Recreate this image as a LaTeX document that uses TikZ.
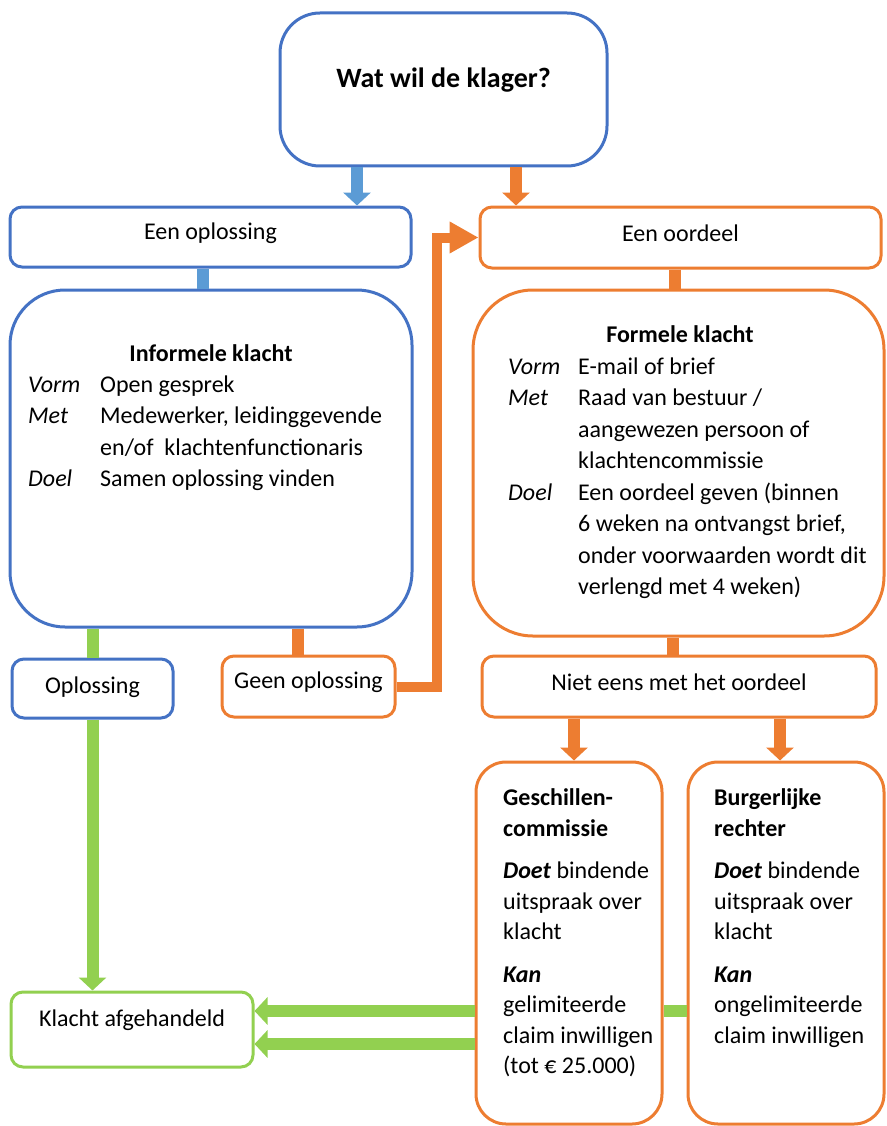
\documentclass[tikz,border=0pt]{standalone}
\usepackage{fontspec}
\setmainfont{Carlito}
\usetikzlibrary{arrows.meta}
\definecolor{kblue}{HTML}{4472C4}
\definecolor{karrow}{HTML}{5B9BD5}
\definecolor{korange}{HTML}{ED7D31}
\definecolor{kgreen}{HTML}{92D050}
\newcommand{\lift}[2]{\raisebox{#1}[\height][\depth]{#2}}

\begin{document}
\begin{tikzpicture} [x=1pt, y=-1pt,
    font=\fontsize{24}{31.5}\selectfont,
    box/.style = {draw, line width=3pt, rounded corners=12pt, fill=white, inner sep=0pt},
    bluebox/.style = {box, draw=kblue},
    orangebox/.style = {box, draw=korange},
    greenbox/.style = {box, draw=kgreen},
    link/.style = {line width=12pt},
    tip/.style = {-{Triangle[width=27pt, length=13pt]}},
    listing/.style = {inner sep=0pt, anchor=north west},
    verdict/.style = {listing, font=\fontsize{24}{30.5}\selectfont}]
    \clip (0,0) rectangle (886,1126);
    % \draw [help lines, step=100] (0,0) grid (886,1126);

    \node (wat) [bluebox, rounded corners=40pt,
        minimum width=327pt, minimum height=153pt] at (443.5,89.5)
        {\lift{9pt}{\fontsize{28}{34}\selectfont\bfseries Wat wil de klager?}};

    \node (oplos) [bluebox, minimum width=401pt, minimum height=60pt]
        at (210.5,237) {\lift{4pt}{Een oplossing}};
    \node (oordeel) [orangebox, minimum width=401pt, minimum height=61pt]
        at (680.5,237.5) {\lift{4pt}{Een oordeel}};

    \node (infbox) [bluebox, rounded corners=55pt,
        minimum width=402pt, minimum height=337pt] at (211,458.5) {};
    \node (inftitle) at (211,353) {\bfseries Informele klacht};
    \node (inflist) [listing] at (28,370) {%
        \begin{tabular}{@{}p{72pt}@{}l@{}}
        \textit{Vorm} & Open gesprek\\
        \textit{Met}  & Medewerker, leidinggevende\\
                      & en/of\ \ klachtenfunctionaris\\
        \textit{Doel} & Samen oplossing vinden
        \end{tabular}};

    \node (forbox) [orangebox, rounded corners=60pt,
        minimum width=411pt, minimum height=346pt] at (678.5,463) {};
    \node (fortitle) at (680,334) {\bfseries Formele klacht};
    \node (forlist) [listing] at (508,352) {%
        \begin{tabular}{@{}p{70pt}@{}l@{}}
        \textit{Vorm} & E-mail of brief\\
        \textit{Met}  & Raad van bestuur /\\
                      & aangewezen persoon of\\
                      & klachtencommissie\\
        \textit{Doel} & Een oordeel geven (binnen\\
                      & 6 weken na ontvangst brief,\\
                      & onder voorwaarden wordt dit\\
                      & verlengd met 4 weken)
        \end{tabular}};

    \node (oplossing) [bluebox, minimum width=161pt, minimum height=59pt]
        at (92.5,688.5) {\lift{1pt}{Oplossing}};
    \node (geen) [orangebox, minimum width=173pt, minimum height=61pt]
        at (308.5,686.5) {\lift{4pt}{Geen oplossing}};
    \node (niet) [orangebox, minimum width=394pt, minimum height=61pt]
        at (679,686.5) {\lift{4pt}{Niet eens met het oordeel}};

    \node (gesch) [orangebox, rounded corners=30pt,
        minimum width=186pt, minimum height=362pt] at (569,943) {};
    \node (geschtext) [verdict] at (503,784) {%
        \begin{tabular}{@{}l@{}}
        \textbf{Geschillen-}\\
        \textbf{commissie}\\[12pt]
        \textbf{\textit{Doet}} bindende\\
        uitspraak over\\
        klacht\\[12pt]
        \textbf{\textit{Kan}}\\
        gelimiteerde\\
        claim inwilligen\\
        (tot € 25.000)
        \end{tabular}};

    \node (burg) [orangebox, rounded corners=30pt,
        minimum width=196pt, minimum height=362pt] at (786,943) {};
    \node (burgtext) [verdict] at (714,784) {%
        \begin{tabular}{@{}l@{}}
        \textbf{Burgerlijke}\\
        \textbf{rechter}\\[12pt]
        \textbf{\textit{Doet}} bindende\\
        uitspraak over\\
        klacht\\[12pt]
        \textbf{\textit{Kan}}\\
        ongelimiteerde\\
        claim inwilligen
        \end{tabular}};

    \node (klacht) [greenbox, minimum width=242pt, minimum height=75pt]
        at (132,1029.5) {\lift{9pt}{Klacht afgehandeld}};

    % blue route
    \draw [link, karrow, tip] (357,0 |- wat.south) -- (357,0 |- oplos.north);
    \draw [link, karrow] (203,0 |- oplos.south) -- (203,0 |- infbox.north);
    \draw [link, kgreen] (oplossing.north |- infbox.south) -- (oplossing.north);
    \draw [link, kgreen, tip] (oplossing.south) -- (oplossing.south |- klacht.north);
    \draw [link, korange] (298,0 |- infbox.south) -- (298,0 |- geen.north);
    \draw [line width=10pt, korange, line join=miter,
        -{Triangle[width=30pt, length=29pt]}]
        (geen.east) -| (437,0 |- oordeel.west) -- (oordeel.west);

    % orange route
    \draw [link, korange, tip] (516,0 |- wat.south) -- (516,0 |- oordeel.north);
    \draw [link, korange] (675,0 |- oordeel.south) -- (675,0 |- forbox.north);
    \draw [link, korange] (673,0 |- forbox.south) -- (673,0 |- niet.north);
    \draw [link, korange, tip] (574,0 |- niet.south) -- (574,0 |- gesch.north);
    \draw [link, korange, tip] (780,0 |- niet.south) -- (780,0 |- burg.north);

    % back to the start
    \draw [link, kgreen] (burg.west |- 0,1011) -- (gesch.east |- 0,1011);
    \draw [link, kgreen, tip] (gesch.west |- 0,1011) -- (klacht.east |- 0,1011);
    \draw [link, kgreen, tip] (gesch.west |- 0,1044) -- (klacht.east |- 0,1044);
\end{tikzpicture}
\end{document}
